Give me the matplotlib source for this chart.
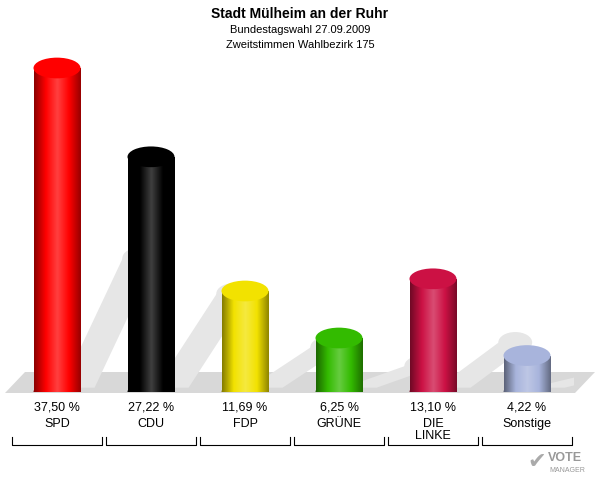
import numpy as np
import matplotlib
matplotlib.use("Agg")
import matplotlib.pyplot as plt
from matplotlib.patches import Ellipse, Rectangle, Polygon
from matplotlib.colors import LinearSegmentedColormap, to_rgb

parties = ["SPD", "CDU", "FDP", "GRÜNE", "DIE\nLINKE", "Sonstige"]
values = [37.50, 27.22, 11.69, 6.25, 13.10, 4.22]
labels = ["37,50 %", "27,22 %", "11,69 %", "6,25 %", "13,10 %", "4,22 %"]
colors = ["#ff0000", "#000000", "#f2e200", "#33bb00", "#cc1144", "#a8b4dc"]

W, H = 600, 480
fig = plt.figure(figsize=(W/100, H/100), dpi=100)
fig.patch.set_facecolor("white")

bg = fig.add_axes([0, 0, 1, 1])
bg.set_xlim(0, W); bg.set_ylim(H, 0); bg.axis("off")
bg.add_patch(Polygon([(25, 372), (595, 372), (575, 393), (5, 393)], closed=True,
                     facecolor="#d8d8d8", edgecolor="none", zorder=0))

ax = fig.add_axes([10/W, 1-392/H, 564/W, 345.6/H])
ax.set_xlim(-0.5, 5.5); ax.set_ylim(0, 40); ax.axis("off")
ax.patch.set_alpha(0)

bw = 0.5
eh = 2.4
for i, (v, c) in enumerate(zip(values, colors)):
    sh = v * 0.4
    ax.add_patch(Polygon([(i + 0.05, 0.5), (i + 0.4, 0.5), (i + 1.05, 0.5 + sh), (i + 0.7, 0.5 + sh)],
                         closed=True, facecolor="#e6e6e6", edgecolor="none", zorder=1))
    ax.add_patch(Ellipse((i + 0.875, 0.5 + sh), 0.36, eh, facecolor="#e6e6e6", edgecolor="none", zorder=1))
    rgb = np.array(to_rgb(c))
    dark = rgb * 0.55
    light = np.clip(rgb + (1 - rgb) * 0.25, 0, 1)
    cmap = LinearSegmentedColormap.from_list("g", [dark, rgb, light, rgb, dark * 0.9 + rgb * 0.1])
    body = Rectangle((i - bw/2, 0), bw, v, facecolor="none", edgecolor="none")
    ax.add_patch(body)
    im = ax.imshow(np.linspace(0, 1, 100)[None, :], cmap=cmap, aspect="auto",
                   extent=(i - bw/2, i + bw/2, 0, v), zorder=2)
    im.set_clip_path(body)
    ax.add_patch(Ellipse((i, 0), bw, eh, facecolor=tuple(dark), edgecolor="none", zorder=1.9))
    ax.add_patch(Ellipse((i, v), bw, eh, facecolor=tuple(rgb), edgecolor="none", zorder=3))
    px = 57 + 94 * i
    bg.text(px, 408, labels[i], ha="center", va="center", fontsize=9, family="Liberation Sans")
    bg.text(px, 430 if "\n" in parties[i] else 424, parties[i], ha="center", va="center",
            fontsize=9, family="Liberation Sans", linespacing=0.9)
    bg.plot([px - 45, px - 45, px + 45, px + 45], [437, 445, 445, 437], color="black", lw=0.8)
ax.set_xlim(-0.5, 5.5)

bg.text(300, 14, "Stadt Mülheim an der Ruhr", ha="center", va="center", fontsize=10,
        fontweight="bold", family="Liberation Sans")
bg.text(300, 30, "Bundestagswahl 27.09.2009", ha="center", va="center", fontsize=8, family="Liberation Sans")
bg.text(300, 45, "Zweitstimmen Wahlbezirk 175", ha="center", va="center", fontsize=8, family="Liberation Sans")
bg.text(548, 458, "VOTE", ha="left", va="center", fontsize=9, fontweight="bold", color="#999999", family="Liberation Sans")
bg.text(549, 470, "MANAGER", ha="left", va="center", fontsize=5, color="#999999", family="Liberation Sans")
bg.text(537, 462, "✔", ha="center", va="center", fontsize=16, color="#aaaaaa", family="DejaVu Sans")

fig.savefig("out.png", dpi=100)
